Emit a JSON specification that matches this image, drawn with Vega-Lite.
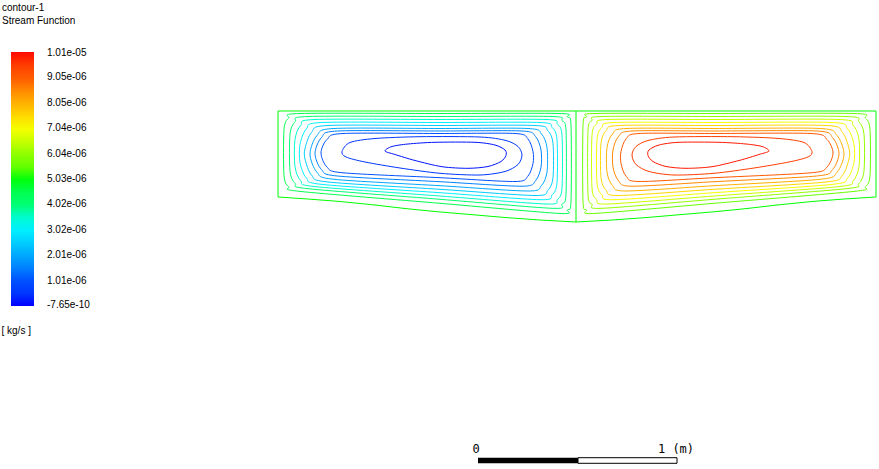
{
 "$schema": "https://vega.github.io/schema/vega-lite/v6.json",
 "width": 879, "height": 469, "autosize": "none", "padding": 0,
 "background": "white",
 "config": {"view": {"stroke": null}, "font": "Liberation Sans"},
 "title": {"text": "contour-1", "subtitle": "Stream Function", "anchor": "start", "frame": "group", "orient": "top", "offset": -26, "dx": 2, "font": "Liberation Sans", "fontSize": 10, "fontWeight": "normal", "color": "black", "subtitleFont": "Liberation Sans", "subtitleFontSize": 10, "subtitleColor": "black", "subtitlePadding": 3},
 "datasets": {
  "walls": [
   {"c":"outer","i":1,"x":0,"y":0,"psi":5.03e-6},{"c":"outer","i":2,"x":2.99,"y":0,"psi":5.03e-6},{"c":"outer","i":3,"x":2.99,"y":-0.43,"psi":5.03e-6},{"c":"outer","i":4,"x":2.83,"y":-0.44,"psi":5.03e-6},{"c":"outer","i":5,"x":2.67,"y":-0.4525,"psi":5.03e-6},{"c":"outer","i":6,"x":2.495,"y":-0.47,"psi":5.03e-6},{"c":"outer","i":7,"x":2.345,"y":-0.4875,"psi":5.03e-6},{"c":"outer","i":8,"x":2.195,"y":-0.5025,"psi":5.03e-6},{"c":"outer","i":9,"x":2.02,"y":-0.5175,"psi":5.03e-6},{"c":"outer","i":10,"x":1.845,"y":-0.5325,"psi":5.03e-6},{"c":"outer","i":11,"x":1.67,"y":-0.545,"psi":5.03e-6},{"c":"outer","i":12,"x":1.49,"y":-0.555,"psi":5.03e-6},{"c":"outer","i":13,"x":1.31,"y":-0.545,"psi":5.03e-6},{"c":"outer","i":14,"x":1.135,"y":-0.5325,"psi":5.03e-6},{"c":"outer","i":15,"x":0.96,"y":-0.5175,"psi":5.03e-6},{"c":"outer","i":16,"x":0.785,"y":-0.5025,"psi":5.03e-6},{"c":"outer","i":17,"x":0.635,"y":-0.4875,"psi":5.03e-6},{"c":"outer","i":18,"x":0.485,"y":-0.47,"psi":5.03e-6},{"c":"outer","i":19,"x":0.31,"y":-0.4525,"psi":5.03e-6},{"c":"outer","i":20,"x":0.15,"y":-0.44,"psi":5.03e-6},{"c":"outer","i":21,"x":0,"y":-0.43,"psi":5.03e-6},{"c":"outer","i":22,"x":0,"y":0,"psi":5.03e-6},
   {"c":"divider","i":1,"x":1.49,"y":0,"psi":5.03e-6},{"c":"divider","i":2,"x":1.49,"y":-0.555,"psi":5.03e-6}
  ],
  "cells": [
   {"c":"L1","i":1,"x":0.11,"y":-0.0125,"psi":4.53e-6},{"c":"L1","i":2,"x":0.81,"y":-0.0125,"psi":4.53e-6},{"c":"L1","i":3,"x":1.405,"y":-0.0125,"psi":4.53e-6},{"c":"L1","i":4,"x":1.4475,"y":-0.03,"psi":4.53e-6},{"c":"L1","i":5,"x":1.465,"y":-0.0725,"psi":4.53e-6},{"c":"L1","i":6,"x":1.465,"y":-0.452,"psi":4.53e-6},{"c":"L1","i":7,"x":1.4475,"y":-0.4945,"psi":4.53e-6},{"c":"L1","i":8,"x":1.405,"y":-0.512,"psi":4.53e-6},{"c":"L1","i":9,"x":0.81,"y":-0.4615,"psi":4.53e-6},{"c":"L1","i":10,"x":0.11,"y":-0.402,"psi":4.53e-6},{"c":"L1","i":11,"x":0.053,"y":-0.379,"psi":4.53e-6},{"c":"L1","i":12,"x":0.03,"y":-0.322,"psi":4.53e-6},{"c":"L1","i":13,"x":0.03,"y":-0.0925,"psi":4.53e-6},{"c":"L1","i":14,"x":0.053,"y":-0.0355,"psi":4.53e-6},
   {"c":"L2","i":1,"x":0.15,"y":-0.0275,"psi":4.02e-6},{"c":"L2","i":2,"x":0.81,"y":-0.0275,"psi":4.02e-6},{"c":"L2","i":3,"x":1.37,"y":-0.0275,"psi":4.02e-6},{"c":"L2","i":4,"x":1.42,"y":-0.048,"psi":4.02e-6},{"c":"L2","i":5,"x":1.44,"y":-0.0975,"psi":4.02e-6},{"c":"L2","i":6,"x":1.44,"y":-0.4165,"psi":4.02e-6},{"c":"L2","i":7,"x":1.42,"y":-0.466,"psi":4.02e-6},{"c":"L2","i":8,"x":1.37,"y":-0.4865,"psi":4.02e-6},{"c":"L2","i":9,"x":0.81,"y":-0.4415,"psi":4.02e-6},{"c":"L2","i":10,"x":0.15,"y":-0.3885,"psi":4.02e-6},{"c":"L2","i":11,"x":0.086,"y":-0.3625,"psi":4.02e-6},{"c":"L2","i":12,"x":0.06,"y":-0.2985,"psi":4.02e-6},{"c":"L2","i":13,"x":0.06,"y":-0.1175,"psi":4.02e-6},{"c":"L2","i":14,"x":0.086,"y":-0.0535,"psi":4.02e-6},
   {"c":"L3","i":1,"x":0.185,"y":-0.0425,"psi":3.52e-6},{"c":"L3","i":2,"x":0.81,"y":-0.0425,"psi":3.52e-6},{"c":"L3","i":3,"x":1.34,"y":-0.0425,"psi":3.52e-6},{"c":"L3","i":4,"x":1.397,"y":-0.0655,"psi":3.52e-6},{"c":"L3","i":5,"x":1.42,"y":-0.1225,"psi":3.52e-6},{"c":"L3","i":6,"x":1.42,"y":-0.385,"psi":3.52e-6},{"c":"L3","i":7,"x":1.397,"y":-0.442,"psi":3.52e-6},{"c":"L3","i":8,"x":1.34,"y":-0.465,"psi":3.52e-6},{"c":"L3","i":9,"x":0.81,"y":-0.425,"psi":3.52e-6},{"c":"L3","i":10,"x":0.185,"y":-0.378,"psi":3.52e-6},{"c":"L3","i":11,"x":0.114,"y":-0.349,"psi":3.52e-6},{"c":"L3","i":12,"x":0.085,"y":-0.278,"psi":3.52e-6},{"c":"L3","i":13,"x":0.085,"y":-0.1425,"psi":3.52e-6},{"c":"L3","i":14,"x":0.114,"y":-0.0715,"psi":3.52e-6},
   {"c":"L4","i":1,"x":0.22,"y":-0.0575,"psi":3.02e-6},{"c":"L4","i":2,"x":0.81,"y":-0.0575,"psi":3.02e-6},{"c":"L4","i":3,"x":1.31,"y":-0.0575,"psi":3.02e-6},{"c":"L4","i":4,"x":1.3705,"y":-0.082,"psi":3.02e-6},{"c":"L4","i":5,"x":1.395,"y":-0.1425,"psi":3.02e-6},{"c":"L4","i":6,"x":1.395,"y":-0.3585,"psi":3.02e-6},{"c":"L4","i":7,"x":1.3705,"y":-0.419,"psi":3.02e-6},{"c":"L4","i":8,"x":1.31,"y":-0.4435,"psi":3.02e-6},{"c":"L4","i":9,"x":0.81,"y":-0.4085,"psi":3.02e-6},{"c":"L4","i":10,"x":0.22,"y":-0.367,"psi":3.02e-6},{"c":"L4","i":11,"x":0.142,"y":-0.335,"psi":3.02e-6},{"c":"L4","i":12,"x":0.11,"y":-0.257,"psi":3.02e-6},{"c":"L4","i":13,"x":0.11,"y":-0.1675,"psi":3.02e-6},{"c":"L4","i":14,"x":0.142,"y":-0.0895,"psi":3.02e-6},
   {"c":"L5","i":1,"x":0.25,"y":-0.0725,"psi":2.51e-6},{"c":"L5","i":2,"x":0.81,"y":-0.0725,"psi":2.51e-6},{"c":"L5","i":3,"x":1.285,"y":-0.0725,"psi":2.51e-6},{"c":"L5","i":4,"x":1.349,"y":-0.0985,"psi":2.51e-6},{"c":"L5","i":5,"x":1.375,"y":-0.1625,"psi":2.51e-6},{"c":"L5","i":6,"x":1.375,"y":-0.3325,"psi":2.51e-6},{"c":"L5","i":7,"x":1.349,"y":-0.3965,"psi":2.51e-6},{"c":"L5","i":8,"x":1.285,"y":-0.4225,"psi":2.51e-6},{"c":"L5","i":9,"x":0.81,"y":-0.3915,"psi":2.51e-6},{"c":"L5","i":10,"x":0.25,"y":-0.355,"psi":2.51e-6},{"c":"L5","i":11,"x":0.1685,"y":-0.3215,"psi":2.51e-6},{"c":"L5","i":12,"x":0.135,"y":-0.24,"psi":2.51e-6},{"c":"L5","i":13,"x":0.135,"y":-0.1875,"psi":2.51e-6},{"c":"L5","i":14,"x":0.1685,"y":-0.106,"psi":2.51e-6},
   {"c":"L6","i":1,"x":0.28,"y":-0.0875,"psi":2.01e-6},{"c":"L6","i":2,"x":0.81,"y":-0.0875,"psi":2.01e-6},{"c":"L6","i":3,"x":1.25,"y":-0.0875,"psi":2.01e-6},{"c":"L6","i":4,"x":1.3175,"y":-0.115,"psi":2.01e-6},{"c":"L6","i":5,"x":1.345,"y":-0.1825,"psi":2.01e-6},{"c":"L6","i":6,"x":1.345,"y":-0.305,"psi":2.01e-6},{"c":"L6","i":7,"x":1.3175,"y":-0.3725,"psi":2.01e-6},{"c":"L6","i":8,"x":1.25,"y":-0.4,"psi":2.01e-6},{"c":"L6","i":9,"x":0.81,"y":-0.3735,"psi":2.01e-6},{"c":"L6","i":10,"x":0.28,"y":-0.3415,"psi":2.01e-6},{"c":"L6","i":11,"x":0.195,"y":-0.3065,"psi":2.01e-6},{"c":"L6","i":12,"x":0.16,"y":-0.215,"psi":2.01e-6},{"c":"L6","i":13,"x":0.195,"y":-0.1225,"psi":2.01e-6},
   {"c":"L7","i":1,"x":0.2975,"y":-0.1,"psi":1.51e-6},{"c":"L7","i":2,"x":0.81,"y":-0.1,"psi":1.51e-6},{"c":"L7","i":3,"x":1.22,"y":-0.1,"psi":1.51e-6},{"c":"L7","i":4,"x":1.2875,"y":-0.1275,"psi":1.51e-6},{"c":"L7","i":5,"x":1.315,"y":-0.195,"psi":1.51e-6},{"c":"L7","i":6,"x":1.315,"y":-0.281,"psi":1.51e-6},{"c":"L7","i":7,"x":1.2875,"y":-0.3485,"psi":1.51e-6},{"c":"L7","i":8,"x":1.22,"y":-0.376,"psi":1.51e-6},{"c":"L7","i":9,"x":0.81,"y":-0.3535,"psi":1.51e-6},{"c":"L7","i":10,"x":0.2975,"y":-0.325,"psi":1.51e-6},{"c":"L7","i":11,"x":0.2175,"y":-0.293,"psi":1.51e-6},{"c":"L7","i":12,"x":0.185,"y":-0.2125,"psi":1.51e-6},{"c":"L7","i":13,"x":0.2175,"y":-0.1325,"psi":1.51e-6},
   {"c":"L8","i":1,"x":0.325,"y":-0.1125,"psi":1.01e-6},{"c":"L8","i":2,"x":0.81,"y":-0.1125,"psi":1.01e-6},{"c":"L8","i":3,"x":1.185,"y":-0.1125,"psi":1.01e-6},{"c":"L8","i":4,"x":1.249,"y":-0.1385,"psi":1.01e-6},{"c":"L8","i":5,"x":1.275,"y":-0.2025,"psi":1.01e-6},{"c":"L8","i":6,"x":1.275,"y":-0.2625,"psi":1.01e-6},{"c":"L8","i":7,"x":1.249,"y":-0.3265,"psi":1.01e-6},{"c":"L8","i":8,"x":1.185,"y":-0.3525,"psi":1.01e-6},{"c":"L8","i":9,"x":0.81,"y":-0.3335,"psi":1.01e-6},{"c":"L8","i":10,"x":0.325,"y":-0.309,"psi":1.01e-6},{"c":"L8","i":11,"x":0.245,"y":-0.28,"psi":1.01e-6},{"c":"L8","i":12,"x":0.215,"y":-0.21,"psi":1.01e-6},{"c":"L8","i":13,"x":0.245,"y":-0.1425,"psi":1.01e-6},
   {"c":"L9","i":1,"x":0.36,"y":-0.1575,"psi":0.5e-6},{"c":"L9","i":2,"x":0.485,"y":-0.1375,"psi":0.5e-6},{"c":"L9","i":3,"x":0.71,"y":-0.1285,"psi":0.5e-6},{"c":"L9","i":4,"x":1.01,"y":-0.13,"psi":0.5e-6},{"c":"L9","i":5,"x":1.14,"y":-0.1475,"psi":0.5e-6},{"c":"L9","i":6,"x":1.2,"y":-0.1775,"psi":0.5e-6},{"c":"L9","i":7,"x":1.22,"y":-0.22,"psi":0.5e-6},{"c":"L9","i":8,"x":1.2,"y":-0.2675,"psi":0.5e-6},{"c":"L9","i":9,"x":1.135,"y":-0.3025,"psi":0.5e-6},{"c":"L9","i":10,"x":1.01,"y":-0.32,"psi":0.5e-6},{"c":"L9","i":11,"x":0.81,"y":-0.3115,"psi":0.5e-6},{"c":"L9","i":12,"x":0.61,"y":-0.285,"psi":0.5e-6},{"c":"L9","i":13,"x":0.435,"y":-0.255,"psi":0.5e-6},{"c":"L9","i":14,"x":0.34,"y":-0.23,"psi":0.5e-6},{"c":"L9","i":15,"x":0.32,"y":-0.2025,"psi":0.5e-6},
   {"c":"L10","i":1,"x":0.535,"y":-0.2,"psi":0.1e-6},{"c":"L10","i":2,"x":0.57,"y":-0.1775,"psi":0.1e-6},{"c":"L10","i":3,"x":0.65,"y":-0.165,"psi":0.1e-6},{"c":"L10","i":4,"x":0.785,"y":-0.1565,"psi":0.1e-6},{"c":"L10","i":5,"x":0.985,"y":-0.1565,"psi":0.1e-6},{"c":"L10","i":6,"x":1.085,"y":-0.17,"psi":0.1e-6},{"c":"L10","i":7,"x":1.135,"y":-0.195,"psi":0.1e-6},{"c":"L10","i":8,"x":1.14,"y":-0.2225,"psi":0.1e-6},{"c":"L10","i":9,"x":1.115,"y":-0.2525,"psi":0.1e-6},{"c":"L10","i":10,"x":1.05,"y":-0.2775,"psi":0.1e-6},{"c":"L10","i":11,"x":0.95,"y":-0.2865,"psi":0.1e-6},{"c":"L10","i":12,"x":0.82,"y":-0.2785,"psi":0.1e-6},{"c":"L10","i":13,"x":0.685,"y":-0.2475,"psi":0.1e-6},{"c":"L10","i":14,"x":0.585,"y":-0.2175,"psi":0.1e-6},
   {"c":"R1","i":1,"x":2.88,"y":-0.0125,"psi":5.53e-6},{"c":"R1","i":2,"x":2.18,"y":-0.0125,"psi":5.53e-6},{"c":"R1","i":3,"x":1.585,"y":-0.0125,"psi":5.53e-6},{"c":"R1","i":4,"x":1.5425,"y":-0.03,"psi":5.53e-6},{"c":"R1","i":5,"x":1.525,"y":-0.0725,"psi":5.53e-6},{"c":"R1","i":6,"x":1.525,"y":-0.452,"psi":5.53e-6},{"c":"R1","i":7,"x":1.5425,"y":-0.4945,"psi":5.53e-6},{"c":"R1","i":8,"x":1.585,"y":-0.512,"psi":5.53e-6},{"c":"R1","i":9,"x":2.18,"y":-0.4615,"psi":5.53e-6},{"c":"R1","i":10,"x":2.88,"y":-0.402,"psi":5.53e-6},{"c":"R1","i":11,"x":2.937,"y":-0.379,"psi":5.53e-6},{"c":"R1","i":12,"x":2.96,"y":-0.322,"psi":5.53e-6},{"c":"R1","i":13,"x":2.96,"y":-0.0925,"psi":5.53e-6},{"c":"R1","i":14,"x":2.937,"y":-0.0355,"psi":5.53e-6},
   {"c":"R2","i":1,"x":2.84,"y":-0.0275,"psi":6.04e-6},{"c":"R2","i":2,"x":2.18,"y":-0.0275,"psi":6.04e-6},{"c":"R2","i":3,"x":1.62,"y":-0.0275,"psi":6.04e-6},{"c":"R2","i":4,"x":1.57,"y":-0.048,"psi":6.04e-6},{"c":"R2","i":5,"x":1.55,"y":-0.0975,"psi":6.04e-6},{"c":"R2","i":6,"x":1.55,"y":-0.4165,"psi":6.04e-6},{"c":"R2","i":7,"x":1.57,"y":-0.466,"psi":6.04e-6},{"c":"R2","i":8,"x":1.62,"y":-0.4865,"psi":6.04e-6},{"c":"R2","i":9,"x":2.18,"y":-0.4415,"psi":6.04e-6},{"c":"R2","i":10,"x":2.84,"y":-0.3885,"psi":6.04e-6},{"c":"R2","i":11,"x":2.904,"y":-0.3625,"psi":6.04e-6},{"c":"R2","i":12,"x":2.93,"y":-0.2985,"psi":6.04e-6},{"c":"R2","i":13,"x":2.93,"y":-0.1175,"psi":6.04e-6},{"c":"R2","i":14,"x":2.904,"y":-0.0535,"psi":6.04e-6},
   {"c":"R3","i":1,"x":2.805,"y":-0.0425,"psi":6.54e-6},{"c":"R3","i":2,"x":2.18,"y":-0.0425,"psi":6.54e-6},{"c":"R3","i":3,"x":1.65,"y":-0.0425,"psi":6.54e-6},{"c":"R3","i":4,"x":1.593,"y":-0.0655,"psi":6.54e-6},{"c":"R3","i":5,"x":1.57,"y":-0.1225,"psi":6.54e-6},{"c":"R3","i":6,"x":1.57,"y":-0.385,"psi":6.54e-6},{"c":"R3","i":7,"x":1.593,"y":-0.442,"psi":6.54e-6},{"c":"R3","i":8,"x":1.65,"y":-0.465,"psi":6.54e-6},{"c":"R3","i":9,"x":2.18,"y":-0.425,"psi":6.54e-6},{"c":"R3","i":10,"x":2.805,"y":-0.378,"psi":6.54e-6},{"c":"R3","i":11,"x":2.876,"y":-0.349,"psi":6.54e-6},{"c":"R3","i":12,"x":2.905,"y":-0.278,"psi":6.54e-6},{"c":"R3","i":13,"x":2.905,"y":-0.1425,"psi":6.54e-6},{"c":"R3","i":14,"x":2.876,"y":-0.0715,"psi":6.54e-6},
   {"c":"R4","i":1,"x":2.77,"y":-0.0575,"psi":7.04e-6},{"c":"R4","i":2,"x":2.18,"y":-0.0575,"psi":7.04e-6},{"c":"R4","i":3,"x":1.68,"y":-0.0575,"psi":7.04e-6},{"c":"R4","i":4,"x":1.6195,"y":-0.082,"psi":7.04e-6},{"c":"R4","i":5,"x":1.595,"y":-0.1425,"psi":7.04e-6},{"c":"R4","i":6,"x":1.595,"y":-0.3585,"psi":7.04e-6},{"c":"R4","i":7,"x":1.6195,"y":-0.419,"psi":7.04e-6},{"c":"R4","i":8,"x":1.68,"y":-0.4435,"psi":7.04e-6},{"c":"R4","i":9,"x":2.18,"y":-0.4085,"psi":7.04e-6},{"c":"R4","i":10,"x":2.77,"y":-0.367,"psi":7.04e-6},{"c":"R4","i":11,"x":2.848,"y":-0.335,"psi":7.04e-6},{"c":"R4","i":12,"x":2.88,"y":-0.257,"psi":7.04e-6},{"c":"R4","i":13,"x":2.88,"y":-0.1675,"psi":7.04e-6},{"c":"R4","i":14,"x":2.848,"y":-0.0895,"psi":7.04e-6},
   {"c":"R5","i":1,"x":2.74,"y":-0.0725,"psi":7.55e-6},{"c":"R5","i":2,"x":2.18,"y":-0.0725,"psi":7.55e-6},{"c":"R5","i":3,"x":1.705,"y":-0.0725,"psi":7.55e-6},{"c":"R5","i":4,"x":1.641,"y":-0.0985,"psi":7.55e-6},{"c":"R5","i":5,"x":1.615,"y":-0.1625,"psi":7.55e-6},{"c":"R5","i":6,"x":1.615,"y":-0.3325,"psi":7.55e-6},{"c":"R5","i":7,"x":1.641,"y":-0.3965,"psi":7.55e-6},{"c":"R5","i":8,"x":1.705,"y":-0.4225,"psi":7.55e-6},{"c":"R5","i":9,"x":2.18,"y":-0.3915,"psi":7.55e-6},{"c":"R5","i":10,"x":2.74,"y":-0.355,"psi":7.55e-6},{"c":"R5","i":11,"x":2.8215,"y":-0.3215,"psi":7.55e-6},{"c":"R5","i":12,"x":2.855,"y":-0.24,"psi":7.55e-6},{"c":"R5","i":13,"x":2.855,"y":-0.1875,"psi":7.55e-6},{"c":"R5","i":14,"x":2.8215,"y":-0.106,"psi":7.55e-6},
   {"c":"R6","i":1,"x":2.71,"y":-0.0875,"psi":8.05e-6},{"c":"R6","i":2,"x":2.18,"y":-0.0875,"psi":8.05e-6},{"c":"R6","i":3,"x":1.74,"y":-0.0875,"psi":8.05e-6},{"c":"R6","i":4,"x":1.6725,"y":-0.115,"psi":8.05e-6},{"c":"R6","i":5,"x":1.645,"y":-0.1825,"psi":8.05e-6},{"c":"R6","i":6,"x":1.645,"y":-0.305,"psi":8.05e-6},{"c":"R6","i":7,"x":1.6725,"y":-0.3725,"psi":8.05e-6},{"c":"R6","i":8,"x":1.74,"y":-0.4,"psi":8.05e-6},{"c":"R6","i":9,"x":2.18,"y":-0.3735,"psi":8.05e-6},{"c":"R6","i":10,"x":2.71,"y":-0.3415,"psi":8.05e-6},{"c":"R6","i":11,"x":2.795,"y":-0.3065,"psi":8.05e-6},{"c":"R6","i":12,"x":2.83,"y":-0.215,"psi":8.05e-6},{"c":"R6","i":13,"x":2.795,"y":-0.1225,"psi":8.05e-6},
   {"c":"R7","i":1,"x":2.6925,"y":-0.1,"psi":8.55e-6},{"c":"R7","i":2,"x":2.18,"y":-0.1,"psi":8.55e-6},{"c":"R7","i":3,"x":1.77,"y":-0.1,"psi":8.55e-6},{"c":"R7","i":4,"x":1.7025,"y":-0.1275,"psi":8.55e-6},{"c":"R7","i":5,"x":1.675,"y":-0.195,"psi":8.55e-6},{"c":"R7","i":6,"x":1.675,"y":-0.281,"psi":8.55e-6},{"c":"R7","i":7,"x":1.7025,"y":-0.3485,"psi":8.55e-6},{"c":"R7","i":8,"x":1.77,"y":-0.376,"psi":8.55e-6},{"c":"R7","i":9,"x":2.18,"y":-0.3535,"psi":8.55e-6},{"c":"R7","i":10,"x":2.6925,"y":-0.325,"psi":8.55e-6},{"c":"R7","i":11,"x":2.7725,"y":-0.293,"psi":8.55e-6},{"c":"R7","i":12,"x":2.805,"y":-0.2125,"psi":8.55e-6},{"c":"R7","i":13,"x":2.7725,"y":-0.1325,"psi":8.55e-6},
   {"c":"R8","i":1,"x":2.665,"y":-0.1125,"psi":9.05e-6},{"c":"R8","i":2,"x":2.18,"y":-0.1125,"psi":9.05e-6},{"c":"R8","i":3,"x":1.805,"y":-0.1125,"psi":9.05e-6},{"c":"R8","i":4,"x":1.741,"y":-0.1385,"psi":9.05e-6},{"c":"R8","i":5,"x":1.715,"y":-0.2025,"psi":9.05e-6},{"c":"R8","i":6,"x":1.715,"y":-0.2625,"psi":9.05e-6},{"c":"R8","i":7,"x":1.741,"y":-0.3265,"psi":9.05e-6},{"c":"R8","i":8,"x":1.805,"y":-0.3525,"psi":9.05e-6},{"c":"R8","i":9,"x":2.18,"y":-0.3335,"psi":9.05e-6},{"c":"R8","i":10,"x":2.665,"y":-0.309,"psi":9.05e-6},{"c":"R8","i":11,"x":2.745,"y":-0.28,"psi":9.05e-6},{"c":"R8","i":12,"x":2.775,"y":-0.21,"psi":9.05e-6},{"c":"R8","i":13,"x":2.745,"y":-0.1425,"psi":9.05e-6},
   {"c":"R9","i":1,"x":2.63,"y":-0.1575,"psi":9.56e-6},{"c":"R9","i":2,"x":2.505,"y":-0.1375,"psi":9.56e-6},{"c":"R9","i":3,"x":2.28,"y":-0.1285,"psi":9.56e-6},{"c":"R9","i":4,"x":1.98,"y":-0.13,"psi":9.56e-6},{"c":"R9","i":5,"x":1.85,"y":-0.1475,"psi":9.56e-6},{"c":"R9","i":6,"x":1.79,"y":-0.1775,"psi":9.56e-6},{"c":"R9","i":7,"x":1.77,"y":-0.22,"psi":9.56e-6},{"c":"R9","i":8,"x":1.79,"y":-0.2675,"psi":9.56e-6},{"c":"R9","i":9,"x":1.855,"y":-0.3025,"psi":9.56e-6},{"c":"R9","i":10,"x":1.98,"y":-0.32,"psi":9.56e-6},{"c":"R9","i":11,"x":2.18,"y":-0.3115,"psi":9.56e-6},{"c":"R9","i":12,"x":2.38,"y":-0.285,"psi":9.56e-6},{"c":"R9","i":13,"x":2.555,"y":-0.255,"psi":9.56e-6},{"c":"R9","i":14,"x":2.65,"y":-0.23,"psi":9.56e-6},{"c":"R9","i":15,"x":2.67,"y":-0.2025,"psi":9.56e-6},
   {"c":"R10","i":1,"x":2.455,"y":-0.2,"psi":9.95e-6},{"c":"R10","i":2,"x":2.42,"y":-0.1775,"psi":9.95e-6},{"c":"R10","i":3,"x":2.34,"y":-0.165,"psi":9.95e-6},{"c":"R10","i":4,"x":2.205,"y":-0.1565,"psi":9.95e-6},{"c":"R10","i":5,"x":2.005,"y":-0.1565,"psi":9.95e-6},{"c":"R10","i":6,"x":1.905,"y":-0.17,"psi":9.95e-6},{"c":"R10","i":7,"x":1.855,"y":-0.195,"psi":9.95e-6},{"c":"R10","i":8,"x":1.85,"y":-0.2225,"psi":9.95e-6},{"c":"R10","i":9,"x":1.875,"y":-0.2525,"psi":9.95e-6},{"c":"R10","i":10,"x":1.94,"y":-0.2775,"psi":9.95e-6},{"c":"R10","i":11,"x":2.04,"y":-0.2865,"psi":9.95e-6},{"c":"R10","i":12,"x":2.17,"y":-0.2785,"psi":9.95e-6},{"c":"R10","i":13,"x":2.305,"y":-0.2475,"psi":9.95e-6},{"c":"R10","i":14,"x":2.405,"y":-0.2175,"psi":9.95e-6}
  ],
  "bar": [
   {"part":"a","x":1.0,"x1":1.5,"y":-1.7335,"y1":-1.7615},
   {"part":"b","x":1.5,"x1":1.995,"y":-1.7335,"y1":-1.7615}
  ],
  "marks": [
   {"t":"0","x":0.99,"y":-1.69},
   {"t":"1 (m)","x":1.99,"y":-1.69}
  ]
 },
 "encoding": {
  "x": {"field":"x","type":"quantitative","scale":{"domain":[-1.39,3.005],"nice":false,"zero":false},"axis":null},
  "y": {"field":"y","type":"quantitative","scale":{"domain":[-1.79,0.555],"nice":false,"zero":false},"axis":null}
 },
 "layer": [
  {"data":{"name":"walls"},
   "mark":{"type":"line","interpolate":"linear","strokeWidth":1},
   "encoding":{
    "stroke":{"field":"psi","type":"quantitative",
      "scale":{"domain":[-7.65e-10,1.005974e-5],"range":["#0000ff","#0050ff","#00a8ff","#00f0ff","#00ff70","#00ff00","#90ff00","#f8ff00","#ffb000","#ff5800","#ff0000"]},
      "legend":{"orient":"none","legendX":2,"legendY":52,"direction":"vertical","padding":0,
        "gradientLength":254,"gradientThickness":23,"gradientStrokeWidth":0,
        "values":[1.9235e-8,1.00529e-6,2.01134e-6,3.01739e-6,4.02344e-6,5.02949e-6,6.03554e-6,7.04159e-6,8.04764e-6,9.05369e-6,1.003974e-5],
        "labelExpr":"['-7.65e-10','1.01e-06','2.01e-06','3.02e-06','4.02e-06','5.03e-06','6.04e-06','7.04e-06','8.05e-06','9.05e-06','1.01e-05'][round((datum.value*1000000+0.000765)/1.00605)]",
        "labelBaseline":"middle",
        "labelOverlap":false,"labelFont":"Liberation Sans","labelFontSize":10,"labelColor":"black","labelOffset":13,
        "title":"[ kg/s ]","titleOrient":"bottom","titleAnchor":"start","titleFont":"Liberation Sans","titleFontSize":10,"titleFontWeight":"normal","titleColor":"black","titlePadding":16,
        "encode":{"title":{"update":{"dx":{"value":-9.5}}}}}},
    "detail":{"field":"c"},
    "order":{"field":"i"}}},
  {"data":{"name":"cells"},
   "mark":{"type":"line","interpolate":"cardinal-closed","tension":0.15,"strokeWidth":1},
   "encoding":{"stroke":{"field":"psi","type":"quantitative"},"detail":{"field":"c"},"order":{"field":"i"}}},
  {"data":{"name":"bar"},"transform":[{"filter":"datum.part=='a'"}],
   "mark":{"type":"rect","fill":"black"},
   "encoding":{"x2":{"field":"x1"},"y2":{"field":"y1"}}},
  {"data":{"name":"bar"},"transform":[{"filter":"datum.part=='b'"}],
   "mark":{"type":"rect","fill":"white","stroke":"black","strokeWidth":1},
   "encoding":{"x2":{"field":"x1"},"y2":{"field":"y1"}}},
  {"data":{"name":"marks"},
   "mark":{"type":"text","font":"DejaVu Sans Mono","fontSize":12,"align":"center","baseline":"middle","color":"black"},
   "encoding":{"text":{"field":"t"}}}
 ]
}
